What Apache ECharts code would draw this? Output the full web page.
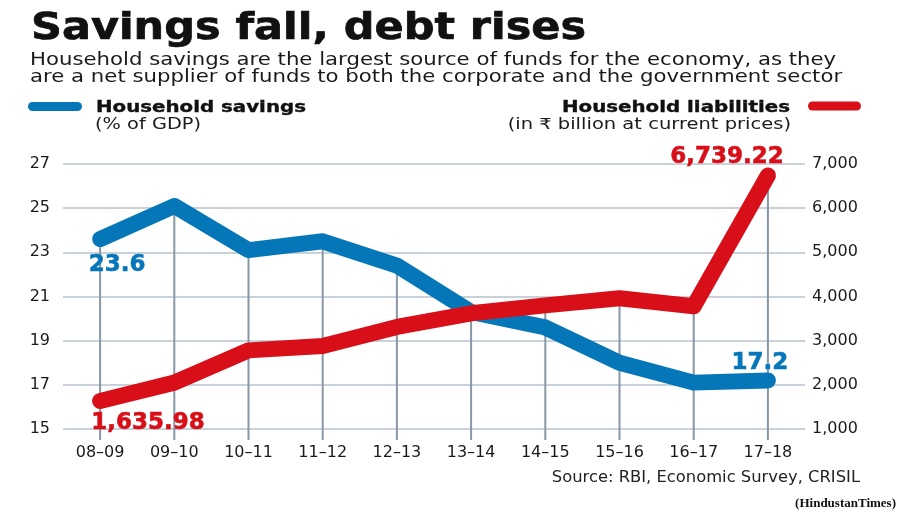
<!DOCTYPE html>
<html>
<head>
<meta charset="utf-8">
<script src="https://cdn.jsdelivr.net/npm/echarts@6/dist/echarts.min.js"></script>
<style>
html,body{margin:0;padding:0;background:#fff;}
#c{width:900px;height:512px;}
</style>
</head>
<body>
<div id="c"></div>
<script>
const categories = ['08–09','09–10','10–11','11–12','12–13','13–14','14–15','15–16','16–17','17–18'];
const savings = [23.6, 25.1, 23.1, 23.5, 22.4, 20.3, 19.6, 18.0, 17.1, 17.2];
const liabilities = [1635.98, 2050, 2780, 2880, 3310, 3620, 3800, 3960, 3780, 6739.22];
const leftTicks = {min: 15, max: 27, interval: 2};
const rightTicks = {min: 1000, max: 7000, interval: 1000};

const titleText = 'Savings fall, debt rises';
const subLines = ['Household savings are the largest source of funds for the economy, as they',
                  'are a net supplier of funds to both the corporate and the government sector'];
const seriesNames = ['Household savings', 'Household liabilities'];
const seriesUnits = ['(% of GDP)', '(in ₹ billion at current prices)'];
const sourceText = 'Source: RBI, Economic Survey, CRISIL';
const creditText = '(HindustanTimes)';

const BLUE = '#0577b9', RED = '#d80f18';
const FONT = '"DejaVu Sans", "Noto Sans", sans-serif';

// top of drop line in left-axis units (whichever series is higher on screen)
const dropTops = categories.map((c, i) => {
  const fs = (savings[i] - leftTicks.min) / (leftTicks.max - leftTicks.min);
  const fl = (liabilities[i] - rightTicks.min) / (rightTicks.max - rightTicks.min);
  const f = Math.max(fs, fl);
  return [i, leftTicks.min + f * (leftTicks.max - leftTicks.min)];
});

function fmt(v){ return v.toLocaleString('en-US', {minimumFractionDigits: 2, maximumFractionDigits: 2}); }

const last = categories.length - 1;
const savingsData = savings.map((v, i) => {
  if (i === 0) return {value: v, label: {show: true, position: 'bottom', distance: 14, offset: [17, 0], formatter: String(v)}};
  if (i === last) return {value: v, label: {show: true, position: 'top', distance: 6, offset: [-8, 0], formatter: String(v)}};
  return v;
});
const liabData = liabilities.map((v, i) => {
  if (i === 0) return {value: v, label: {show: true, position: 'bottom', distance: 11, offset: [48, 0], formatter: fmt(v)}};
  if (i === last) return {value: v, label: {show: true, position: 'top', distance: 7, offset: [-41, 0], formatter: fmt(v)}};
  return v;
});

function txt(x, y, text, font, fill, scaleX, align, strokeW) {
  const style = {text: text, font: font, fill: fill, textAlign: align || 'left', textVerticalAlign: 'top'};
  if (strokeW) { style.stroke = fill; style.lineWidth = strokeW; }
  return {type: 'text', x: x, y: y, scaleX: scaleX || 1, originX: 0, originY: 0, style: style};
}

const chart = echarts.init(document.getElementById('c'), null, {renderer: 'canvas'});
chart.setOption({
  backgroundColor: '#fff',
  animation: false,
  graphic: [
    txt(31, 10, titleText, 'bold 38px ' + FONT, '#111', 1.13, 'left', 0.7),
    txt(30, 51, subLines[0], '18px ' + FONT, '#1a1a1a', 1.18),
    txt(30, 68, subLines[1], '18px ' + FONT, '#1a1a1a', 1.18),
    {type: 'rect', shape: {x: 28, y: 102, width: 54, height: 9, r: 4.5}, style: {fill: BLUE}},
    {type: 'rect', shape: {x: 808, y: 101.5, width: 53, height: 9, r: 4.5}, style: {fill: RED}},
    txt(96, 101, seriesNames[0], 'bold 15px ' + FONT, '#111', 1.32, 'left', 0.35),
    txt(790, 101, seriesNames[1], 'bold 15px ' + FONT, '#111', 1.32, 'right', 0.35),
    txt(95, 118, seriesUnits[0], '15px ' + FONT, '#1a1a1a', 1.29),
    txt(791, 118, seriesUnits[1], '15px ' + FONT, '#1a1a1a', 1.3, 'right'),
    txt(860, 471, sourceText, '15px ' + FONT, '#222', 1.09, 'right'),
    txt(896, 497, creditText, 'bold 13px "Liberation Serif", serif', '#111', 1, 'right')
  ],
  grid: {left: 63, right: 95, top: 164, bottom: 83},
  xAxis: {
    type: 'category', data: categories, boundaryGap: true,
    axisLine: {show: false},
    axisTick: {show: false},
    axisLabel: {margin: 16, fontFamily: FONT, fontSize: 16, color: '#1a1a1a'},
    splitLine: {show: false}
  },
  yAxis: [
    {
      type: 'value', position: 'left', min: leftTicks.min, max: leftTicks.max, interval: leftTicks.interval,
      axisLine: {show: false}, axisTick: {show: false},
      axisLabel: {margin: 13, fontFamily: FONT, fontSize: 16, color: '#1a1a1a'},
      splitLine: {lineStyle: {color: '#c9d2da', width: 2}}
    },
    {
      type: 'value', position: 'right', min: rightTicks.min, max: rightTicks.max, interval: rightTicks.interval,
      axisLine: {show: false}, axisTick: {show: false},
      axisLabel: {margin: 7, fontFamily: FONT, fontSize: 16, color: '#1a1a1a',
        formatter: v => v.toLocaleString('en-US')},
      splitLine: {show: false}
    }
  ],
  series: [
    {
      type: 'custom', name: 'drop', yAxisIndex: 0, z: 1, silent: true,
      data: dropTops,
      renderItem: function (params, api) {
        const top = api.coord([api.value(0), api.value(1)]);
        const base = api.coord([api.value(0), leftTicks.min]);
        return {type: 'line', shape: {x1: top[0], y1: top[1], x2: base[0], y2: base[1] + 11},
          style: {stroke: '#8797a5', lineWidth: 2}};
      }
    },
    {
      name: seriesNames[0], type: 'line', yAxisIndex: 0, z: 3,
      data: savingsData, symbol: 'circle', symbolSize: 0, showSymbol: true, smooth: false,
      lineStyle: {color: BLUE, width: 16, cap: 'round', join: 'round'},
      itemStyle: {color: BLUE},
      label: {fontFamily: FONT, fontWeight: 'bold', fontSize: 23, color: BLUE, textBorderColor: BLUE, textBorderWidth: 0.6}
    },
    {
      name: seriesNames[1], type: 'line', yAxisIndex: 1, z: 4,
      data: liabData, symbol: 'circle', symbolSize: 0, showSymbol: true, smooth: false,
      lineStyle: {color: RED, width: 16, cap: 'round', join: 'round'},
      itemStyle: {color: RED},
      label: {fontFamily: FONT, fontWeight: 'bold', fontSize: 23, color: RED, textBorderColor: RED, textBorderWidth: 0.6}
    }
  ]
});
</script>
</body>
</html>
